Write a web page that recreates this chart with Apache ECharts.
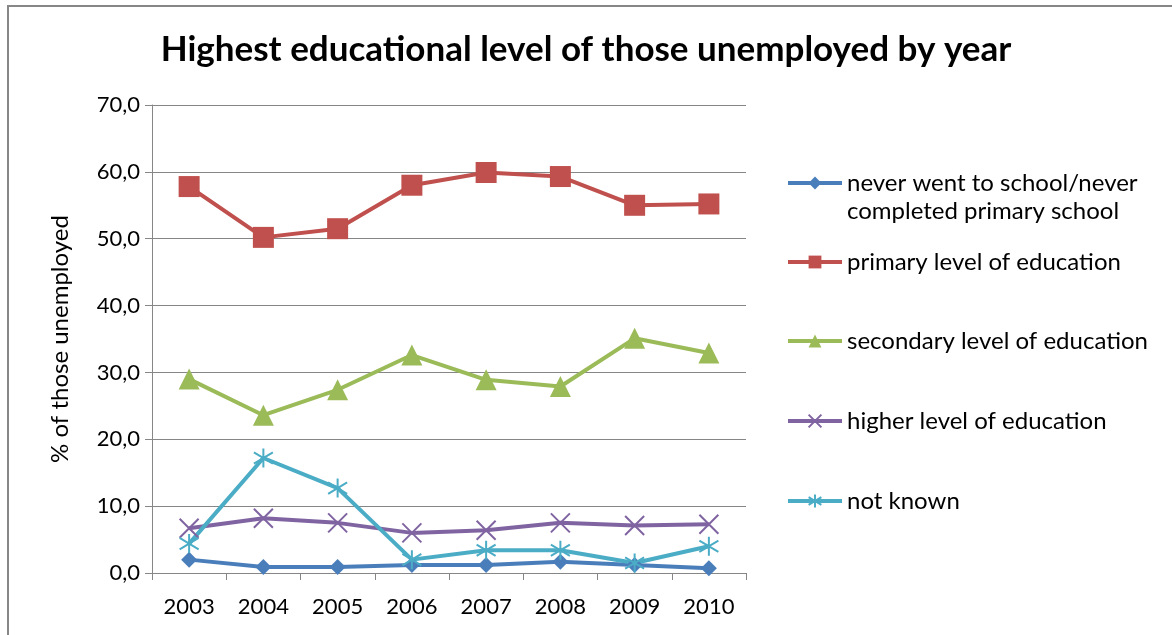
<!DOCTYPE html>
<html>
<head>
<meta charset="utf-8">
<script src="https://cdn.jsdelivr.net/npm/echarts@6/dist/echarts.min.js"></script>
<style>
  html, body { margin: 0; padding: 0; background: #fff; }
  #chart { width: 1172px; height: 635px; }
</style>
</head>
<body>
<div id="chart"></div>
<script>
// Share of the unemployed by highest level of education, per year (%)
const years = ['2003', '2004', '2005', '2006', '2007', '2008', '2009', '2010'];
const neverSchool = [2.0, 0.9, 0.9, 1.2, 1.2, 1.7, 1.2, 0.7];
const primaryLevel = [57.8, 50.2, 51.5, 58.0, 59.9, 59.3, 55.0, 55.2];
const secondaryLevel = [29.0, 23.6, 27.4, 32.6, 28.9, 27.9, 35.1, 32.9];
const higherLevel = [6.7, 8.2, 7.5, 6.0, 6.4, 7.5, 7.1, 7.3];
const notKnown = [4.4, 17.2, 12.7, 2.0, 3.4, 3.4, 1.5, 4.0];

const seriesNames = [
  'never went to school/never completed primary school',
  'primary level of education',
  'secondary level of education',
  'higher level of education',
  'not known'
];
// first legend entry wraps onto two lines
const firstLegendLines = ['never went to school/never', 'completed primary school'];
const yTicks = { min: 0, max: 70, step: 10 };

const FONT = 'Lato';
const GRID_GRAY = '#868686';
const colors = ['#4A7EBB', '#C0504D', '#9BBB59', '#8064A2', '#4BACC6'];

const xMark = 'path://M0,0L20,20M20,0L0,20';
const starMark = 'path://M10,0L10,20M1,4L19,16M19,4L1,16';

const chart = echarts.init(document.getElementById('chart'), null, { renderer: 'canvas' });

function lineSeries(name, data, color, symbol, size, stroke) {
  return {
    name: name,
    type: 'line',
    data: data,
    symbol: symbol,
    symbolSize: size,
    showAllSymbol: true,
    lineStyle: { color: color, width: 4 },
    itemStyle: stroke
      ? { color: color, borderColor: color, borderWidth: 2 }
      : { color: color, borderWidth: 0 },
    emphasis: { disabled: true },
    animation: false,
    z: 3
  };
}

// one legend per series so each row sits at its own height
const legendRows = [183, 262, 341, 421, 501];
const LEGEND_FONT = 24;
const legends = seriesNames.map((n, i) => ({
  data: [n],
  left: 786,
  top: legendRows[i] - 14,
  orient: 'vertical',
  padding: 0,
  itemWidth: 54,
  itemHeight: 16,
  itemGap: 0,
  selectedMode: false,
  lineStyle: { width: 4 },
  formatter: i === 0 ? () => firstLegendLines[0] : '{name}',
  textStyle: {
    fontFamily: FONT,
    fontSize: LEGEND_FONT,
    color: '#000',
    lineHeight: 28
  }
}));

chart.setOption({
  backgroundColor: '#fff',
  animation: false,
  title: {
    text: 'Highest educational level of those unemployed by year',
    left: 'center',
    top: 27,
    textStyle: { fontFamily: FONT, fontSize: 35, fontWeight: 'bold', color: '#000' }
  },
  legend: legends,
  grid: { left: 152, right: 426, top: 105, bottom: 62, containLabel: false },
  xAxis: {
    type: 'category',
    data: years,
    boundaryGap: true,
    axisLine: { lineStyle: { color: GRID_GRAY, width: 1 } },
    axisTick: { show: true, length: 7, lineStyle: { color: GRID_GRAY } },
    axisLabel: { fontFamily: FONT, fontSize: 22, color: '#000', margin: 23 }
  },
  yAxis: {
    type: 'value',
    min: yTicks.min,
    max: yTicks.max,
    interval: yTicks.step,
    name: '% of those unemployed',
    nameLocation: 'middle',
    nameRotate: 90,
    nameGap: 80,
    nameTextStyle: { fontFamily: FONT, fontSize: 24, color: '#000' },
    axisLine: { show: true, lineStyle: { color: GRID_GRAY, width: 1 } },
    axisTick: { show: true, length: 7, lineStyle: { color: GRID_GRAY } },
    axisLabel: {
      fontFamily: FONT, fontSize: 22, color: '#000', margin: 12,
      formatter: v => v.toFixed(1).replace('.', ',')
    },
    splitLine: { show: true, lineStyle: { color: GRID_GRAY, width: 1 } }
  },
  graphic: [
    { type: 'line', shape: { x1: 8, y1: 6, x2: 1172, y2: 6 }, style: { stroke: '#878787', lineWidth: 2 }, silent: true },
    { type: 'line', shape: { x1: 8, y1: 5, x2: 8, y2: 635 }, style: { stroke: '#878787', lineWidth: 2 }, silent: true },
    {
      type: 'text', left: 847, top: legendRows[0] + 16, silent: true,
      style: { text: firstLegendLines[1], font: LEGEND_FONT + 'px ' + FONT, fill: '#000' }
    }
  ],
  series: [
    lineSeries(seriesNames[0], neverSchool, colors[0], 'diamond', 16, false),
    lineSeries(seriesNames[1], primaryLevel, colors[1], 'rect', 21, false),
    lineSeries(seriesNames[2], secondaryLevel, colors[2], 'triangle', 21, false),
    lineSeries(seriesNames[3], higherLevel, colors[3], xMark, 19, true),
    lineSeries(seriesNames[4], notKnown, colors[4], starMark, 19, true)
  ]
});
</script>
</body>
</html>
